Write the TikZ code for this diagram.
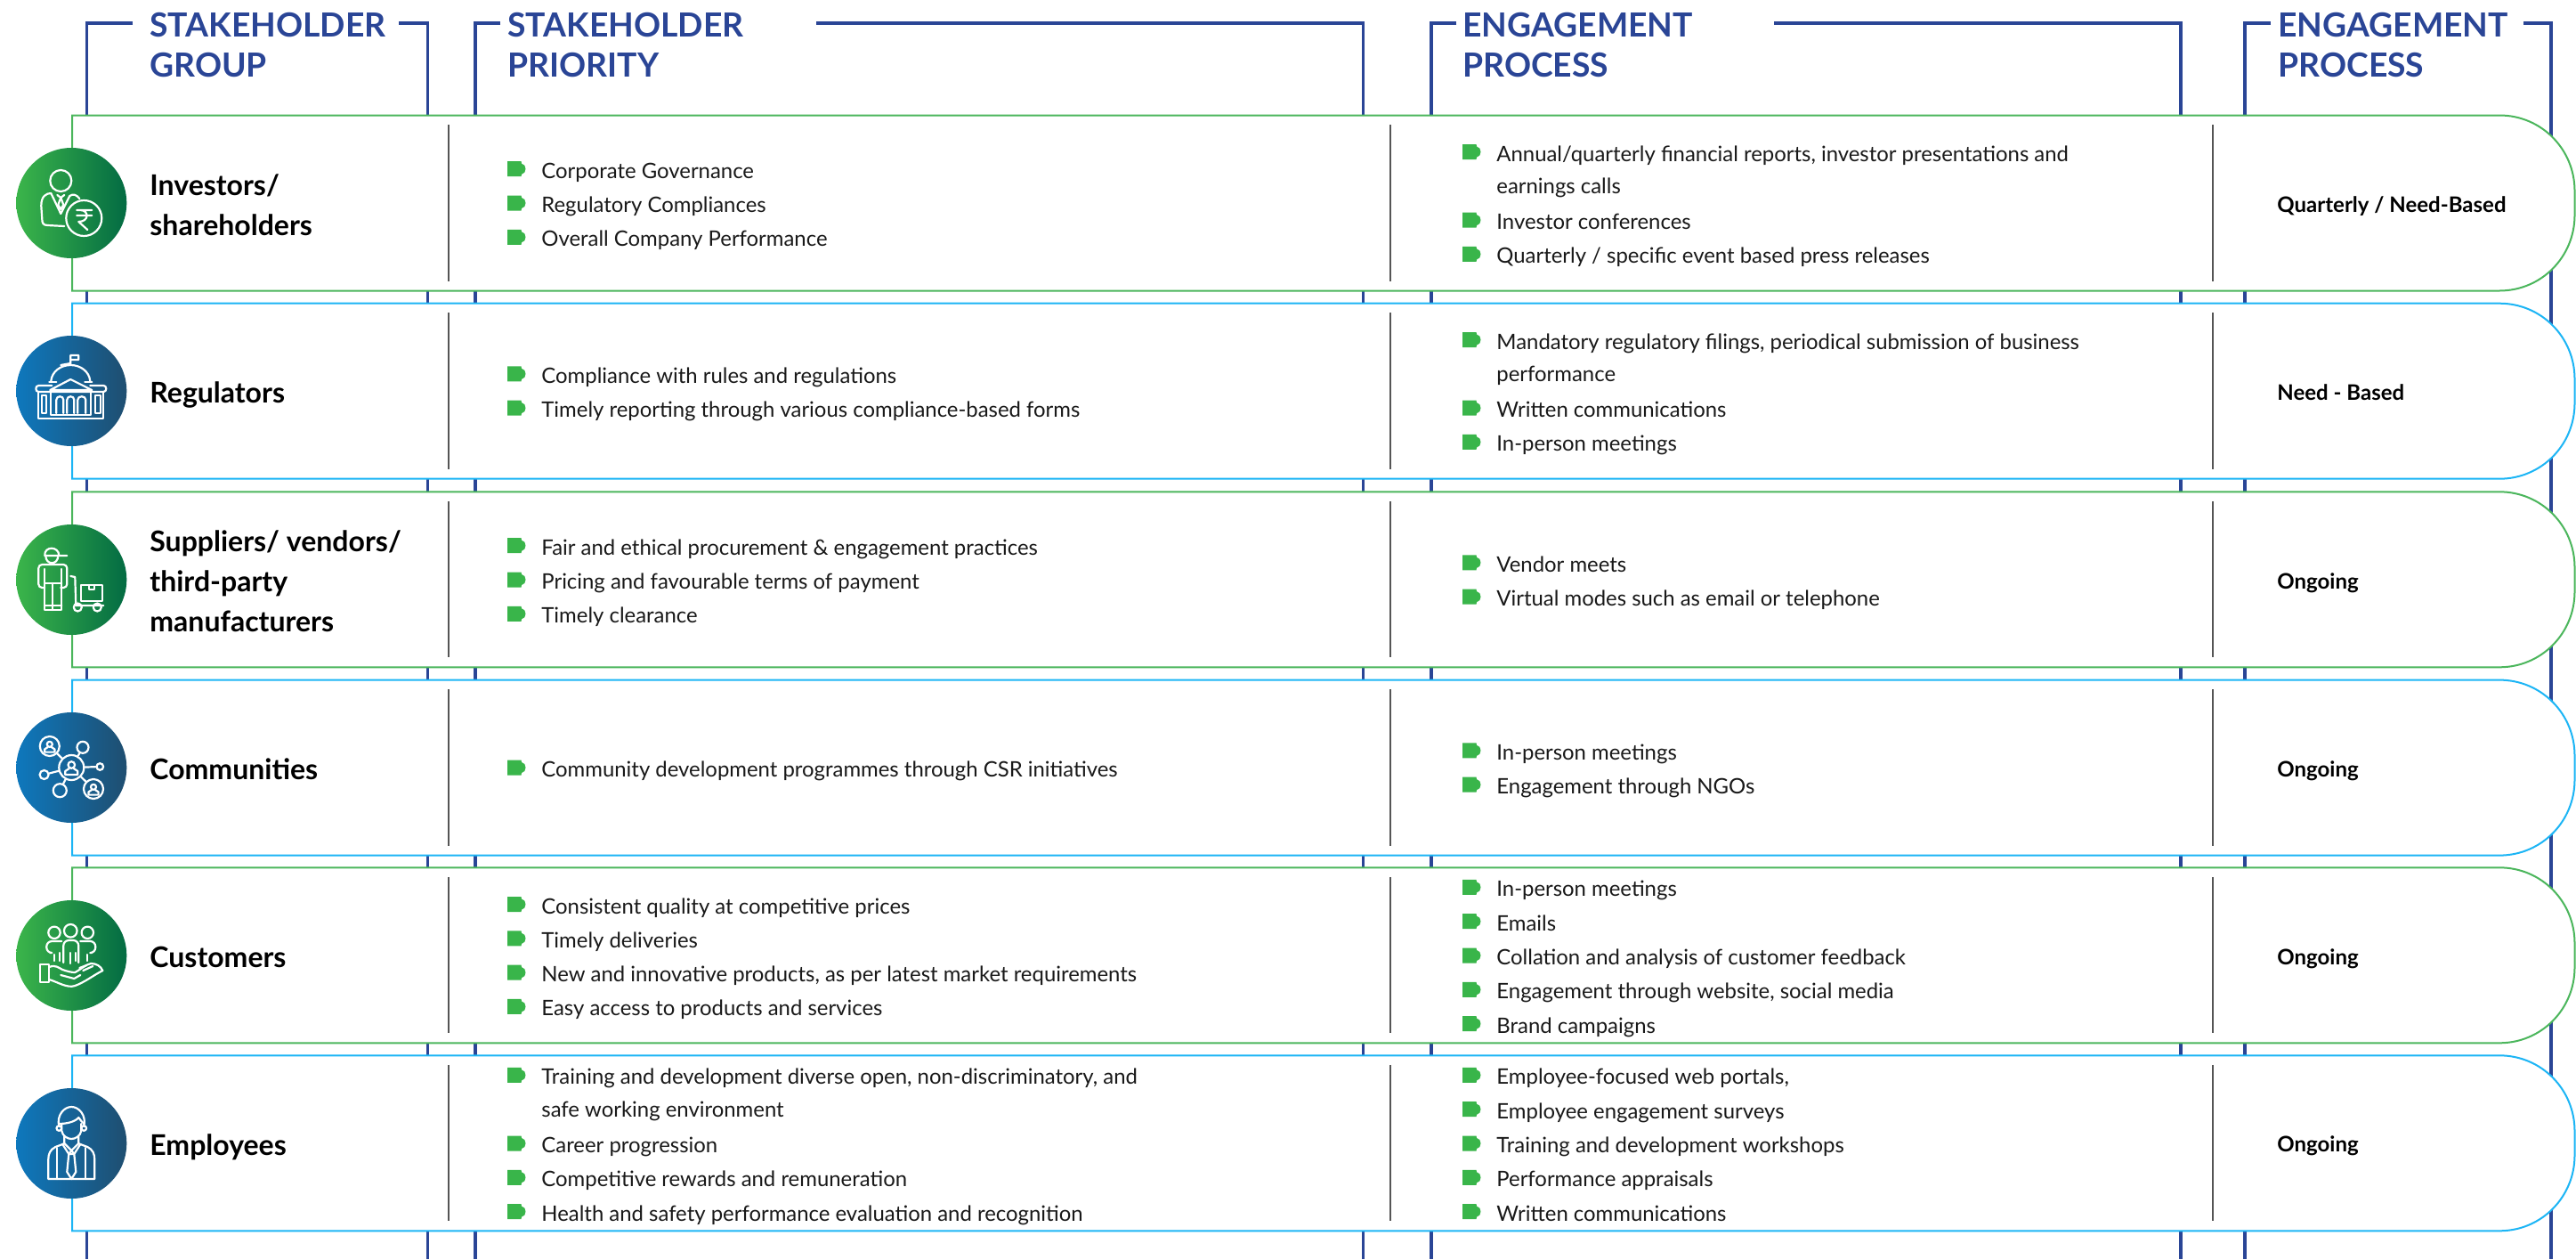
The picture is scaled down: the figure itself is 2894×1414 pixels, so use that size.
\documentclass[tikz,border=0pt]{standalone}
\usepackage{fontspec}
\setmainfont{Lato}
\definecolor{brk}{HTML}{2A4596}
\definecolor{rowgreen}{HTML}{4BB65C}
\definecolor{rowblue}{HTML}{1CB5F5}
\definecolor{bulgreen}{HTML}{39B54A}
\definecolor{sepgrey}{HTML}{555555}
\tikzset{
  x=0.5pt,y=-0.5pt,
  bracket/.style={draw=brk,line width=1.75pt,line join=miter},
  headtxt/.style={anchor=base west,inner sep=0pt,align=left,text=brk,font=\fontsize{18.65}{22.5}\selectfont\bfseries},
  labeltxt/.style={anchor=base west,inner sep=0pt,align=left,text=black,font=\fontsize{16}{22.5}\selectfont\bfseries},
  bodytxt/.style={anchor=base west,inner sep=0pt,align=left,text=black!90,font=\fontsize{11.95}{19.15}\selectfont},
  freqtxt/.style={anchor=base west,inner sep=0pt,text=black,font=\fontsize{12}{19.15}\selectfont\bfseries},
  rowline/.style={line width=1pt,fill=white},
  seprule/.style={draw=sepgrey,line width=1pt},
  greendisc/.style={circle,inner sep=0pt,minimum size=62pt,left color=green1,middle color=green2,right color=green3,shading angle=90},
  bluedisc/.style={circle,inner sep=0pt,minimum size=62pt,left color=blue1,middle color=blue2,right color=blue3},
  icon/.style={draw=white,line width=1.1pt,line cap=round,line join=round},
  ring/.style={circle,draw=white,line width=1.1pt,inner sep=0pt},
}
\definecolor{green1}{HTML}{3BB54A}
\definecolor{green2}{HTML}{128C4B}
\definecolor{green3}{HTML}{036B43}
\definecolor{blue1}{HTML}{0E78BD}
\definecolor{blue2}{HTML}{1A6398}
\definecolor{blue3}{HTML}{1F4E70}
\newcommand{\bulmark}[2]{%
  \fill[bulgreen,shift={(#1,#2)}] (0,-8.5) -- (15.5,-8.5) -- (16,-6) .. controls (19,-5.5) and (20.5,-3) .. (20.5,0) .. controls (20.5,3) and (19,5.5) .. (16,6) -- (15.5,8.5) -- (0,8.5) -- cycle;}
% bullet: name, x, centre y, text
\newcommand{\bul}[4]{%
  \bulmark{#2}{#3}
  \node[bodytxt] (#1) at (#2+38,#3+10.5) {#4};}
% bullet with a two-line text (the node's base is its last line)
\newcommand{\bulw}[4]{%
  \bulmark{#2}{#3}
  \node[bodytxt] (#1) at (#2+38,#3+47.3) {#4};}
% person glyph: x, y, scale
\newcommand{\persn}[3]{%
  \draw[icon,shift={(#1,#2)},scale=#3] (0,-4) circle (3.8) (-2.5,0) -- (-7,3) -- (-7,7) -- (7,7) -- (7,3) -- (2.5,0);}
\begin{document}
\begin{tikzpicture}
\useasboundingbox (0,0) rectangle (2894,1414);
% brackets
\draw[bracket] (149,26) -- (97.5,26) -- (97.5,1414);
\draw[bracket] (448,26) -- (480.5,26) -- (480.5,1414);
\draw[bracket] (562,26) -- (534,26) -- (534,1414);
\draw[bracket] (917,26) -- (1531.5,26) -- (1531.5,1414);
\draw[bracket] (1636,26) -- (1608,26) -- (1608,1414);
\draw[bracket] (1993,26) -- (2450,26) -- (2450,1414);
\draw[bracket] (2551,26) -- (2522,26) -- (2522,1414);
\draw[bracket] (2835,26) -- (2866,26) -- (2866,1414);
% headings
\node[headtxt] (h1) at (168,86) {STAKEHOLDER\\GROUP};
\node[headtxt] (h2) at (570,86) {STAKEHOLDER\\PRIORITY};
\node[headtxt] (h3) at (1643,86) {ENGAGEMENT\\PROCESS};
\node[headtxt] (h4) at (2559,86) {ENGAGEMENT\\PROCESS};
% rows
\foreach \t/\col in {129.5/rowgreen,340.7/rowblue,552.3/rowgreen,763.6/rowblue,974.3/rowgreen,1185.3/rowblue}{
  \draw[rowline,draw=\col] (81,\t) -- (2808,\t) .. controls (2855,\t) and (2892.5,\t+38) .. (2892.5,\t+85) -- (2892.5,\t+112) .. controls (2892.5,\t+159) and (2855,\t+197) .. (2808,\t+197) -- (81,\t+197) -- cycle;
  \draw[seprule] (504,\t+10.5) -- (504,\t+186);
  \draw[seprule] (1562,\t+10.5) -- (1562,\t+186);
  \draw[seprule] (2485.5,\t+10.5) -- (2485.5,\t+186);
}
% discs
\node[greendisc] (d1) at (80.3,228) {};
\node[bluedisc] (d2) at (80.3,439) {};
\node[greendisc] (d3) at (80.3,651) {};
\node[bluedisc] (d4) at (80.3,862) {};
\node[greendisc] (d5) at (80.3,1073) {};
\node[bluedisc] (d6) at (80.3,1284) {};
% icon 1: investor
\begin{scope}[shift={(d1.center)}]
\draw[icon] (-12,-25) circle (12);
\draw[icon] (-8,26) -- (-27,25) .. controls (-32,25) and (-33,22) .. (-33,18) -- (-34,3) .. controls (-34,-8) and (-28,-11) .. (-23,-11) -- (-12,12) -- (-2,-8) .. controls (2,-11) and (6,-9) .. (9,-5);
\draw[icon] (-12,-6) -- (-15,2) -- (-12,7) -- (-9,2) -- cycle (-16,-9) -- (-12,-6) -- (-8,-9);
\draw[icon] (14,17) circle (20);
\draw[icon] (6,8) -- (23,8) (6,14) -- (23,14) (10,8) .. controls (20,8) and (20,21) .. (8,21) -- (18,30);
\end{scope}
% icon 2: government building
\begin{scope}[shift={(d2.center)}]
\draw[icon] (-1,-40) rectangle (8,-35) (-1,-35) -- (-1,-30) (-12,-29) -- (-1,-31);
\draw[icon] (-23,-11) .. controls (-22,-22) and (-12,-29) .. (-1,-29) .. controls (10,-29) and (20,-22) .. (21,-11);
\draw[icon] (-25,-10) -- (-17,-10) (15,-10) -- (23,-10);
\draw[icon] (-24,-1) -- (-1,-13) -- (23,-1) -- cycle;
\draw[icon] (-22,-6) -- (-37,-6) .. controls (-41,-6) and (-41,1) .. (-37,1) -- (36,1) .. controls (40,1) and (40,-6) .. (36,-6) -- (21,-6);
\draw[icon] (-37,1) -- (-37,31) -- (36,31) -- (36,1);
\draw[icon] (-23,1) -- (-23,27) -- (22,27) -- (22,1);
\draw[icon] (-33,5) -- (-28,5) -- (-28,25) -- (-33,25) -- cycle (27,5) -- (33,5) -- (33,25) -- (27,25) -- cycle;
\draw[icon] (-17,25) -- (-17,10) .. controls (-17,5) and (-9,5) .. (-9,10) -- (-9,25);
\draw[icon] (-5,25) -- (-5,10) .. controls (-5,5) and (3,5) .. (3,10) -- (3,25);
\draw[icon] (7,25) -- (7,10) .. controls (7,5) and (16,5) .. (16,10) -- (16,25);
\end{scope}
% icon 3: worker with cart
\begin{scope}[shift={(d3.center)}]
\draw[icon] (-30,-27) .. controls (-31,-38) and (-14,-38) .. (-14,-27) (-30,-27) -- (-5,-27);
\draw[icon] (-29,-27) .. controls (-29,-16) and (-15,-16) .. (-15,-27);
\draw[icon,rounded corners=2pt] (-30,9) -- (-37,9) -- (-37,-17) -- (-5,-17) -- (-5,9) -- (-12,9);
\draw[icon] (-30,-12) -- (-30,34) -- (-11,34) -- (-11,-12) (-21,5) -- (-21,34) (-30,4) -- (-11,4) (-30,29) -- (-11,29);
\draw[icon] (-1,-4) -- (4,-3) -- (5,29) -- (36,29);
\draw[icon] (11,6) rectangle (35,24) (20,6) -- (20,11) -- (26,11) -- (26,6);
\draw[icon] (7,31) circle (4.5) (29,31) circle (4.5);
\end{scope}
% icon 4: network
\begin{scope}[shift={(d4.center)}]
\node[ring,minimum size=14pt] (nc) at (0,0) {};
\node[ring,minimum size=11pt] (na) at (-24.5,-24) {};
\node[ring,minimum size=6.5pt] (nb) at (12.7,-22.7) {};
\node[ring,minimum size=3.8pt] (nd) at (32,-1) {};
\node[ring,minimum size=5pt] (ne) at (-30.7,8) {};
\node[ring,minimum size=7.5pt] (nf) at (-13,25.7) {};
\node[ring,minimum size=11pt] (ng) at (24.7,24) {};
\draw[icon] (nc) -- (na) (nc) -- (nb) (nc) -- (nd) (nc) -- (ne) (nc) -- (nf) (nc) -- (ng);
\persn{0}{1}{1}
\persn{-24.5}{-23}{0.8}
\persn{24.7}{25}{0.8}
\end{scope}
% icon 5: customers on a hand
\begin{scope}[shift={(d5.center)}]
\draw[icon] (-19.3,-25.7) circle (6.7) (-1,-27.7) circle (7.3) (18,-25.7) circle (6.7);
\draw[icon,rounded corners=3pt] (-9,8) -- (-9,-17) -- (8,-17) -- (8,8);
\draw[icon,rounded corners=3pt] (-11,-16) -- (-28,-16) -- (-28,-3) -- (-24,-3) ;
\draw[icon,rounded corners=3pt] (10,-16) -- (27,-16) -- (27,-3) -- (23,-3);
\draw[icon] (-19,-1) -- (-19,6) (-1,-3) -- (-1,9) (18,-1) -- (18,6) (-13,-3) -- (-13,6) (5,-3) -- (5,6);
\draw[icon] (-35,10) rectangle (-25,30);
\draw[icon] (-25,13) .. controls (-18,10) and (-14,14) .. (-10,16) .. controls (-4,18) and (0,19) .. (4,19) .. controls (10,16) and (16,10) .. (22,9) .. controls (28,9) and (33,12) .. (35,17) .. controls (25,22) and (15,30) .. (4,34) .. controls (-5,37) and (-15,30) .. (-25,27);
\draw[icon] (-12,22) -- (3,26) -- (10,22) (9,14) -- (17,11) (13,17) -- (24,12);
\end{scope}
% icon 6: employee
\begin{scope}[shift={(d6.center)}]
\draw[icon] (-14,-19) .. controls (-17,-32) and (-8,-41) .. (0,-41) .. controls (8,-41) and (17,-32) .. (14,-19);
\draw[icon] (-14,-22) .. controls (-6,-22) and (4,-24) .. (8,-29) .. controls (10,-26) and (12,-24) .. (14,-22);
\draw[icon] (-11,-22) -- (-11,-14) .. controls (-10,-8) and (-4,-5) .. (0,-5) .. controls (4,-5) and (10,-8) .. (11,-14) -- (11,-22);
\draw[icon] (-14,-17) circle (2.8) (14,-17) circle (2.8);
\draw[icon] (-8,-8) -- (-8,0) -- (0,8) -- (8,0) -- (8,-8);
\draw[icon] (-8,0) -- (-10,1) -- (-3,12) -- (0,8) -- (3,12) -- (10,1) -- (8,0);
\draw[icon] (-10,1) -- (-18,4) .. controls (-24,7) and (-26,12) .. (-26,18) -- (-26,40) -- (26,40) -- (26,18) .. controls (26,12) and (24,7) .. (18,4) -- (10,1);
\draw[icon] (-16,5) -- (-16,40) (16,5) -- (16,40);
\draw[icon] (-3,12) -- (-5,32) -- (0,40) -- (5,32) -- (3,12) -- cycle;
\end{scope}
% row labels
\node[labeltxt] (l1) at (168,264.5) {Investors/\\shareholders};
\node[labeltxt] (l2) at (168,452.2) {Regulators};
\node[labeltxt] (l3) at (168,709.2) {Suppliers/ vendors/\\third-party\\manufacturers};
\node[labeltxt] (l4) at (168,875.2) {Communities};
\node[labeltxt] (l5) at (168,1086.2) {Customers};
\node[labeltxt] (l6) at (168,1297.2) {Employees};
% frequency
\node[freqtxt] (f1) at (2558,238) {Quarterly / Need-Based};
\node[freqtxt] (f2) at (2558,449) {Need - Based};
\node[freqtxt] (f3) at (2558,661) {Ongoing};
\node[freqtxt] (f4) at (2558,872) {Ongoing};
\node[freqtxt] (f5) at (2558,1083) {Ongoing};
\node[freqtxt] (f6) at (2558,1293) {Ongoing};
% stakeholder priority
\bul{a1}{570}{189.7}{Corporate Governance}
\bul{a2}{570}{228}{Regulatory Compliances}
\bul{a3}{570}{266.3}{Overall Company Performance}
\bul{b1}{570}{419.85}{Compliance with rules and regulations}
\bul{b2}{570}{458.15}{Timely reporting through various compliance-based forms}
\bul{c1}{570}{612.7}{Fair and ethical procurement \& engagement practices}
\bul{c2}{570}{651}{Pricing and favourable terms of payment}
\bul{c3}{570}{689.3}{Timely clearance}
\bul{e1}{570}{862}{Community development programmes through CSR initiatives}
\bul{g1}{570}{1015.55}{Consistent quality at competitive prices}
\bul{g2}{570}{1053.85}{Timely deliveries}
\bul{g3}{570}{1092.15}{New and innovative products, as per latest market requirements}
\bul{g4}{570}{1130.45}{Easy access to products and services}
\bulw{k1}{570}{1207.4}{Training and development diverse open, non-discriminatory, and\\[-0.75pt]safe working environment}
\bul{k2}{570}{1284}{Career progression}
\bul{k3}{570}{1322.3}{Competitive rewards and remuneration}
\bul{k4}{570}{1360.6}{Health and safety performance evaluation and recognition}
% engagement process
\bulw{p1}{1643}{170.55}{Annual/quarterly financial reports, investor presentations and\\[-0.75pt]earnings calls}
\bul{p2}{1643}{247.15}{Investor conferences}
\bul{p3}{1643}{285.45}{Quarterly / specific event based press releases}
\bulw{q1}{1643}{381.55}{Mandatory regulatory filings, periodical submission of business\\[-0.75pt]performance}
\bul{q2}{1643}{458.15}{Written communications}
\bul{q3}{1643}{496.45}{In-person meetings}
\bul{r1}{1643}{631.85}{Vendor meets}
\bul{r2}{1643}{670.15}{Virtual modes such as email or telephone}
\bul{s1}{1643}{842.85}{In-person meetings}
\bul{s2}{1643}{881.15}{Engagement through NGOs}
\bul{t1}{1643}{996.4}{In-person meetings}
\bul{t2}{1643}{1034.7}{Emails}
\bul{t3}{1643}{1073}{Collation and analysis of customer feedback}
\bul{t4}{1643}{1111.3}{Engagement through website, social media}
\bul{t5}{1643}{1149.6}{Brand campaigns}
\bul{u1}{1643}{1207.4}{Employee-focused web portals,}
\bul{u2}{1643}{1245.7}{Employee engagement surveys}
\bul{u3}{1643}{1284}{Training and development workshops}
\bul{u4}{1643}{1322.3}{Performance appraisals}
\bul{u5}{1643}{1360.6}{Written communications}
\end{tikzpicture}
\end{document}
